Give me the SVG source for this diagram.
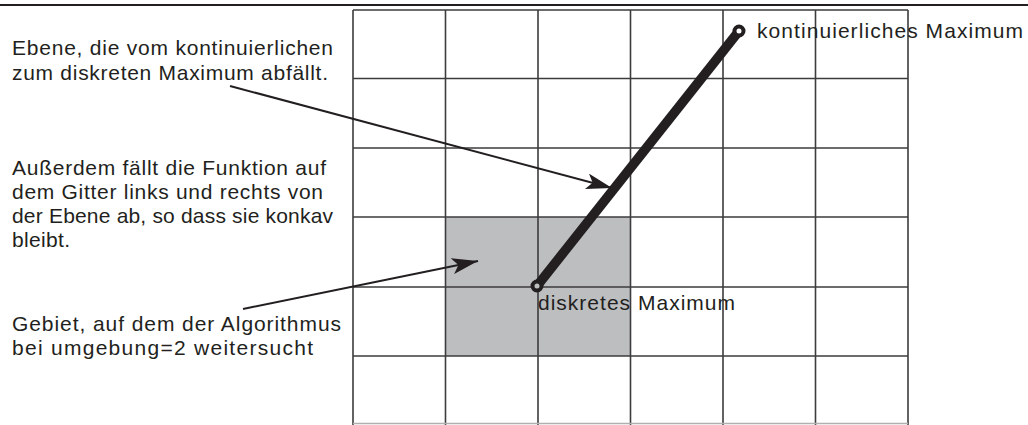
<svg xmlns="http://www.w3.org/2000/svg" width="1028" height="425" viewBox="0 0 1028 425">
<defs>
<style>
.t{font-family:"Liberation Sans",Arial,sans-serif;font-size:21px;fill:#231f20}
.g{stroke:#3c3c3e;stroke-width:1.6;fill:none}
.c{stroke:#231f20;stroke-width:2;fill:none}
</style>
<marker id="ah2" viewBox="0 0 26 16" refX="26" refY="8" markerWidth="26" markerHeight="16" markerUnits="userSpaceOnUse" orient="auto">
<path d="M0,0 L26,8 L0,16 L6,8 Z" fill="#231f20"/>
</marker>
</defs>
<rect width="1028" height="425" fill="#fff"/>
<line x1="0" y1="5" x2="1028" y2="5" stroke="#231f20" stroke-width="2.2"/>
<g id="region"><rect x="445.5" y="217" width="185" height="139" fill="#bcbec0"/></g>
<g id="grid">
<path class="g" d="M353,10V425M445.5,10V425M538,10V425M630.5,10V425M723,10V425M815.5,10V425M908,10V425"/>
<path class="g" d="M353,10H908M353,78.5H908M353,148H908M353,217H908M353,287H908M353,356H908"/>
<line x1="353" y1="423.5" x2="908" y2="423.5" stroke="#b0b0b0" stroke-width="1.5"/>
</g>
<g id="plane">
<line x1="537" y1="286" x2="739" y2="31" stroke="#231f20" stroke-width="9.5"/>
</g>
<g id="cont-max">
<circle cx="739" cy="31" r="4.5" fill="#fff" stroke="#231f20" stroke-width="4"/>
<text class="t" x="757" y="38" textLength="266" lengthAdjust="spacing">kontinuierliches Maximum</text>
</g>
<g id="disc-max">
<circle cx="537" cy="286" r="4.5" fill="#bcbec0" stroke="#231f20" stroke-width="4"/>
<text class="t" x="538" y="310" textLength="197" lengthAdjust="spacing">diskretes Maximum</text>
</g>
<g id="label-plane">
<text class="t" x="12" y="55" textLength="321" lengthAdjust="spacing">Ebene, die vom kontinuierlichen</text>
<text class="t" x="12" y="80" textLength="316" lengthAdjust="spacing">zum diskreten Maximum abfällt.</text>
</g>
<g id="label-concave">
<text class="t" x="12" y="175" textLength="314" lengthAdjust="spacing">Außerdem fällt die Funktion auf</text>
<text class="t" x="12" y="199" textLength="311" lengthAdjust="spacing">dem Gitter links und rechts von</text>
<text class="t" x="12" y="223" textLength="321" lengthAdjust="spacing">der Ebene ab, so dass sie konkav</text>
<text class="t" x="12" y="247" textLength="58" lengthAdjust="spacing">bleibt.</text>
</g>
<g id="label-region">
<text class="t" x="12" y="331" textLength="329" lengthAdjust="spacing">Gebiet, auf dem der Algorithmus</text>
<text class="t" x="12" y="355" textLength="301" lengthAdjust="spacing">bei umgebung=2 weitersucht</text>
</g>
<g id="connectors">
<line class="c" x1="230" y1="86" x2="612" y2="188" marker-end="url(#ah2)"/>
<line class="c" x1="243" y1="309" x2="478" y2="261" marker-end="url(#ah2)"/>
</g>
</svg>
